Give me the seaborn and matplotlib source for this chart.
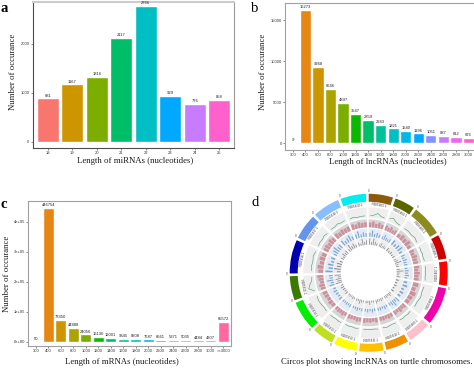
import numpy as np
import seaborn as sns
import matplotlib
matplotlib.use("Agg")
import matplotlib.pyplot as plt

sns.set_style("white")
plt.rcParams['font.family'] = ['Liberation Sans', 'DejaVu Sans']

#panel a data
mirna_len = ['18', '19', '20', '21', '22', '23', '24', '25']
mirna_count = [881, 1167, 1316, 2117, 2766, 929, 776, 858]
#panel b data
lnc_len = ['300', '400', '600', '800', '1000', '1200', '1400', '1600', '1800', '2000',
           '2200', '2400', '2600', '2800', '3000']
lnc_count = [9, 16273, 9268, 6646, 4897, 3547, 2859, 2243, 1821, 1540, 1196, 1051, 887, 812, 676]
#panel c data
mrna_len = ['300', '400', '600', '800', '1000', '1200', '1400', '1600', '1800', '2000',
            '2200', '2400', '2600', '2800', '3000', '>=3000']
mrna_count = [50, 446754, 73350, 44888, 24056, 16130, 12001, 9645, 8308, 7687,
              6561, 5371, 5035, 4484, 4307, 65572]

#ggplot default hues
hue8 = ['#F8766D', '#CD9600', '#7CAE00', '#00BE67', '#00BFC4', '#00A9FF', '#C77CFF', '#FF61CC']
hue16 = ['#F8766D', '#E68613', '#CD9600', '#ABA300', '#7CAE00', '#0CB702', '#00BE67', '#00C19A',
         '#00BFC4', '#00B8E7', '#00A9FF', '#8494FF', '#C77CFF', '#ED68ED', '#FF61CC', '#FF68A1']

#panel d data, going clockwise from the top
chrom_names = ['JH205403.1', 'JH205404.1', 'JH205405.1', 'JH205406.1', 'JH205407.1', 'JH205408.1',
               'JH205409.1', 'JH205410.1', 'JH205411.1', 'JH205412.1', 'JH205413.1', 'JH205414.1',
               'JH205415.1', 'JH205416.1', 'JH205417.1', 'JH205418.1', 'JH205419.1']
chrom_sizes = [18, 15, 23, 18, 18, 28, 17, 17, 18, 17, 16, 22, 18, 25, 19, 20, 19]
chrom_colors = ['#8B5A0A', '#5A6400', '#8B8B20', '#CD0000', '#FF0000', '#EE00AA', '#FFC0CB', '#EE9000',
                '#FFC000', '#FFFF00', '#BFE020', '#00EE00', '#3B7A00', '#0000B0', '#6495ED', '#87BEFF',
                '#00EEEE']
#five estimated readings per chromosome, as a share of the track height
green_track = [.2, .3, .5, .25, .2, .3, .5, .3, .2, .2, .2, .25, .2, .3, .2, .2, .15, .2, .15, .2,
               .25, .2, .2, .15, .2, .2, .15, .25, .15, .2, .15, .2, .15, .2, .15, .2, .15, .2, .25, .15,
               .2, .15, .2, .15, .2, .15, .2, .15, .2, .15, .2, .2, .15, .2, .2, .2, .15, .2, .25, .15,
               .2, .7, .5, .25, .2, .2, .25, .2, .3, .2, .2, .25, .2, .3, .2, .25, .2, .3, .2, .25,
               .2, .25, .15, .2, .2]
red_track = [.6, .75, .5, .7, .55, .65, .5, .7, .45, .6, .5, .7, .6, .75, .5, .6, .5, .7, .55, .6,
             .65, .5, .7, .55, .6, .7, .5, .75, .6, .55, .6, .5, .65, .45, .55, .5, .6, .45, .55, .5,
             .6, .45, .55, .5, .6, .5, .6, .45, .5, .55, .45, .6, .5, .55, .45, .5, .6, .45, .55, .6,
             .6, .7, .5, .65, .75, .6, .75, .55, .7, .6, .65, .7, .55, .75, .6, .7, .55, .7, .6, .65,
             .7, .55, .75, .6, .65]
blue_track = [.5, .8, .4, .6, .45, .4, .7, .45, .35, .5, .7, .4, .6, .75, .4, .5, .35, .55, .4, .45,
              .35, .5, .4, .55, .35, .45, .6, .35, .5, .4, .7, .45, .85, .55, .4, .35, .5, .3, .45, .4,
              .35, .5, .3, .45, .35, .4, .3, .5, .35, .3, .45, .35, .4, .3, .35, .45, .3, .4, .5, .35,
              .65, .4, .8, .45, .5, .9, .55, .7, .4, .55, .45, .7, .9, .5, .6, .75, .45, .6, .8, .5,
              .55, .85, .4, .6, .45]
black_track = [.85, .4, .9, .5, .35, .4, .6, .3, .45, .3, .5, .3, .4, .25, .35, .3, .5, .85, .35, .4,
               .45, .9, .4, .3, .5, .4, .3, .35, .25, .4, .3, .5, .3, .4, .35, .25, .4, .3, .35, .5,
               .3, .25, .55, .3, .35, .25, .4, .6, .3, .35, .3, .4, .25, .35, .3, .45, .3, .4, .5, .3,
               .9, .6, .75, .4, .8, .5, .9, .6, .7, .4, .45, .3, .6, .4, .55, .4, .9, .5, .7, .4,
               .5, .3, .85, .4, .6]


def px_axes(left, right, top, bottom, **kw):
    #axes from picture pixel edges
    return fig.add_axes([left/474, 1-bottom/373, (right-left)/474, (bottom-top)/373], **kw)


def count_panel(ax, labels, counts, colors, ylim, yticks, yticklabels, edge):
    sns.barplot(x=labels, y=counts, hue=labels, palette=colors, legend=False, width=0.9,
                dodge=False, saturation=1, ax=ax)
    for bars in ax.containers:
        ax.bar_label(bars, fmt='%d', fontsize=3.0, padding=0.6, color='#222222')
    ax.set_xlim(-0.6, len(labels)-0.4)
    ax.set_ylim(ylim)
    ax.set_yticks(yticks)
    ax.set_yticklabels(yticklabels)
    ax.tick_params(axis='both', labelsize=3.0, length=1.5, width=0.4, pad=1,
                   bottom=True, left=True, colors='#333333')
    for s in ax.spines.values():
        s.set_color(edge)
        s.set_linewidth(0.8)


fig = plt.figure(figsize=(4.74, 3.73), dpi=100)

ax_a = px_axes(33, 234, 1.5, 148)
count_panel(ax_a, mirna_len, mirna_count, hue8, (-129, 2860), [0, 1000, 2000],
            ['0', '1000', '2000'], '#4d4d4d')
ax_a.spines['top'].set_color('#cccccc')
ax_a.spines['top'].set_linewidth(1.5)
ax_a.spines['right'].set_color('#999999')

ax_b = px_axes(285.3, 476, 2.7, 150)
count_panel(ax_b, lnc_len, lnc_count, hue16[:15], (-817, 17146), [0, 5000, 10000, 15000],
            ['0', '5000', '10000', '15000'], '#a0a0a0')

ax_c = px_axes(28.3, 230.7, 201, 346)
count_panel(ax_c, mrna_len, mrna_count, hue16, (-14333, 469000), [0, 100000, 200000, 300000, 400000],
            ['0e+00', '1e+05', '2e+05', '3e+05', '4e+05'], '#a0a0a0')

#circos panel, radial units are picture pixels
ax_d = px_axes(368.7-85, 368.7+85, 272.8-85, 272.8+85, projection='polar')
ax_d.set_theta_zero_location('N')
ax_d.set_theta_direction(-1)
ax_d.set_ylim(0, 85)
ax_d.axis('off')

gap = 2.0
sizes = np.array(chrom_sizes, dtype=float)
scale = 360/(sizes.sum()+gap*len(sizes))
starts = np.radians(np.cumsum(np.r_[0, sizes[:-1]+gap])*scale)
widths = np.radians(sizes*scale)
mids = starts+widths/2

ax_d.bar(mids, 8, width=widths, bottom=71, color=chrom_colors, linewidth=0)
ax_d.bar(mids, 10.5, width=widths, bottom=55, color='#eeeeee', linewidth=0)
ax_d.bar(mids, 8, width=widths, bottom=45.5, color='#d6d6d6', linewidth=0)
ax_d.bar(mids, 8, width=widths, bottom=36, color='#e4ebf3', linewidth=0)
ax_d.bar(mids, 7.5, width=widths, bottom=28, color='#eeeeee', linewidth=0)

sub = np.array([0.1, 0.3, 0.5, 0.7, 0.9])
for i in range(len(sizes)):
    t = starts[i]+widths[i]*sub
    w = widths[i]/5
    j = i*5
    ax_d.plot(t, 55+10*np.array(green_track[j:j+5]), color='#3c9a6a', lw=0.4)
    ax_d.bar(t, 8*np.array(red_track[j:j+5]), width=w*0.8, bottom=45.5, color='#cf8f9b', linewidth=0)
    ax_d.bar(t, 8*np.array(blue_track[j:j+5]), width=w*0.45, bottom=36, color='#7aa6d4', linewidth=0)
    ax_d.bar(t, 7.5*np.array(black_track[j:j+5]), width=w*0.35, bottom=28, color='#808080', linewidth=0)
    #names follow the ring and flip on the lower half
    deg = np.degrees(mids[i])
    rot = -deg+180 if 90 < deg < 270 else -deg
    ax_d.text(mids[i], 68, chrom_names[i], fontsize=2.2, rotation=rot, rotation_mode='anchor',
              ha='center', va='center', color='#333333')
    ax_d.text(starts[i], 82, '0', fontsize=2.2, ha='center', va='center', color='#444444')

#axis titles and panel letters
serif = ['Liberation Serif', 'DejaVu Serif']
labels = [(135, 161, 'Length of miRNAs (nucleotides)', 0, 6.3), (388, 162, 'Length of lncRNAs (nucleotides)', 0, 6.3),
          (122, 362, 'Length of mRNAs (nucleotides)', 0, 6.3), (13, 72, 'Number of occurance', 90, 6.3),
          (263, 72, 'Number of occurance', 90, 6.3), (7, 274, 'Number of occurance', 90, 6.3),
          (376.5, 362, 'Circos plot showing lncRNAs on turtle chromosomes.', 0, 6.3)]
for x, y, txt, rot, size in labels:
    fig.text(x/474, 1-y/373, txt, family=serif, fontsize=size, rotation=rot, ha='center', va='center',
             color='#1a1a1a')
for x, y, txt, wt in [(4, 9, 'a', 'bold'), (255, 8, 'b', 'normal'), (4, 205, 'c', 'bold'), (255, 203, 'd', 'normal')]:
    fig.text(x/474, 1-y/373, txt, family=serif, fontsize=10.5, weight=wt, ha='center', va='center', color='black')

fig.savefig('out.png', dpi=100)
